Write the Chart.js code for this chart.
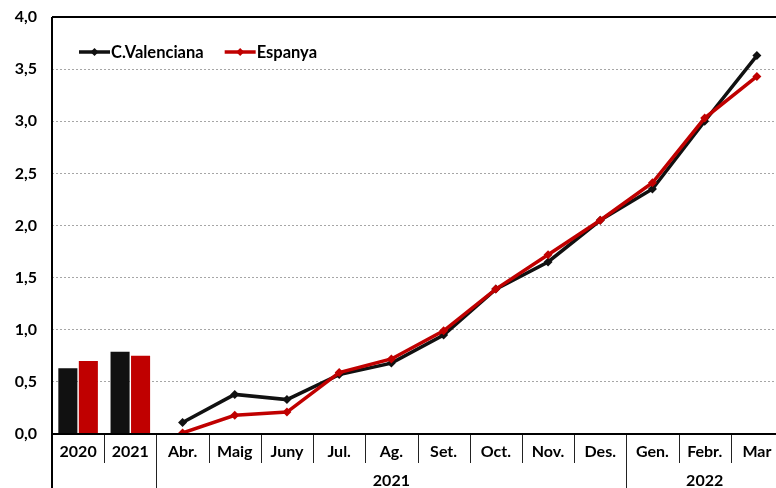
<!DOCTYPE html>
<html>
<head>
<meta charset="utf-8">
<script src="https://cdn.jsdelivr.net/npm/chart.js@4/dist/chart.umd.min.js"></script>
<style>
html,body{margin:0;padding:0;background:#fff;overflow:hidden;width:776px;height:488px;}
#wrap{width:790px;height:488px;}
</style>
</head>
<body>
<div id="wrap"><canvas id="c" width="790" height="488"></canvas></div>
<script>
const categories = ['2020','2021','Abr.','Maig','Juny','Jul.','Ag.','Set.','Oct.','Nov.','Des.','Gen.','Febr.','Mar'];
const groupLabels = ['', '2021', '2022'];
const groupStarts = [0, 2, 11];
const seriesNames = ['C.Valenciana', 'Espanya'];
const barValencia = [0.63, 0.79, null, null, null, null, null, null, null, null, null, null, null, null];
const barEspanya  = [0.70, 0.75, null, null, null, null, null, null, null, null, null, null, null, null];
const lineValencia = [null, null, 0.11, 0.38, 0.33, 0.57, 0.68, 0.95, 1.39, 1.65, 2.05, 2.35, 3.00, 3.63];
const lineEspanya  = [null, null, 0.01, 0.18, 0.21, 0.59, 0.72, 0.99, 1.39, 1.72, 2.05, 2.41, 3.03, 3.43];
const yTicks = [0, 0.5, 1, 1.5, 2, 2.5, 3, 3.5, 4];

const BLACK = '#111111';
const RED = '#c00000';
const FONT = 'Lato';

const framePlugin = {
  id: 'frame',
  afterDraw(chart) {
    const ctx = chart.ctx;
    const a = chart.chartArea;
    const x = chart.scales.x;
    const n = categories.length;
    const w = (x.right - x.left) / n;
    const H = chart.height;
    ctx.save();
    ctx.strokeStyle = '#222';
    ctx.lineWidth = 1;
    for (let i = 0; i <= n; i++) {
      const px = Math.round(x.left + i * w) + 0.5;
      const long = groupStarts.includes(i) || i === n;
      ctx.beginPath();
      ctx.moveTo(px, a.bottom);
      ctx.lineTo(px, long ? H : a.bottom + 29);
      ctx.stroke();
    }
    ctx.fillStyle = '#000';
    ctx.font = 'bold 16px ' + FONT;
    ctx.textAlign = 'center';
    ctx.textBaseline = 'middle';
    for (let g = 0; g < groupLabels.length; g++) {
      const s = groupStarts[g];
      const e = g + 1 < groupStarts.length ? groupStarts[g + 1] : n;
      const cx = x.left + (s + e) / 2 * w;
      ctx.fillText(groupLabels[g], cx, a.bottom + 47);
    }
    ctx.strokeStyle = '#000';
    ctx.lineWidth = 2;
    ctx.beginPath();
    ctx.moveTo(a.left, a.top); ctx.lineTo(a.right, a.top);
    ctx.stroke();
    ctx.beginPath();
    ctx.moveTo(a.left, a.top); ctx.lineTo(a.left, H);
    ctx.stroke();
    ctx.beginPath();
    ctx.moveTo(a.left, a.bottom); ctx.lineTo(a.right, a.bottom);
    ctx.stroke();
    ctx.font = 'bold 16.5px ' + FONT;
    ctx.textAlign = 'left';
    let lx = a.left + 27;
    const ly = a.top + 35;
    const lineSets = chart.data.datasets.filter(d => d.type === 'line');
    lineSets.forEach(ds => {
      ctx.strokeStyle = ds.borderColor;
      ctx.lineWidth = 3.5;
      ctx.beginPath();
      ctx.moveTo(lx, ly); ctx.lineTo(lx + 31, ly);
      ctx.stroke();
      ctx.fillStyle = ds.borderColor;
      ctx.beginPath();
      const cx = lx + 15.5, r = 4;
      ctx.moveTo(cx, ly - r); ctx.lineTo(cx + r, ly); ctx.lineTo(cx, ly + r); ctx.lineTo(cx - r, ly);
      ctx.closePath(); ctx.fill();
      ctx.fillStyle = '#000';
      ctx.fillText(ds.label, lx + 32, ly + 1);
      lx += 32 + ctx.measureText(ds.label).width + 21;
    });
    ctx.restore();
  }
};

new Chart(document.getElementById('c'), {
  data: {
    labels: categories,
    datasets: [
      { type: 'bar', label: seriesNames[0], data: barValencia, backgroundColor: BLACK, categoryPercentage: 0.785, barPercentage: 0.93, order: 3 },
      { type: 'bar', label: seriesNames[1], data: barEspanya, backgroundColor: RED, categoryPercentage: 0.785, barPercentage: 0.93, order: 3 },
      { type: 'line', label: seriesNames[0], data: lineValencia, borderColor: BLACK, backgroundColor: BLACK, borderWidth: 3.5, pointStyle: 'rectRot', pointRadius: 4.5, pointBorderWidth: 0, tension: 0, order: 2 },
      { type: 'line', label: seriesNames[1], data: lineEspanya, borderColor: RED, backgroundColor: RED, borderWidth: 3.5, pointStyle: 'rectRot', pointRadius: 4.5, pointBorderWidth: 0, tension: 0, order: 1 }
    ]
  },
  options: {
    responsive: false,
    animation: false,
    devicePixelRatio: 1,
    layout: { padding: { top: 17, right: 7, left: 0, bottom: 0 } },
    plugins: { legend: { display: false }, tooltip: { enabled: false } },
    scales: {
      x: {
        type: 'category',
        offset: true,
        afterFit: s => { s.height = 54; s.paddingLeft = 0; s.paddingRight = 0; },
        grid: { display: false, drawTicks: false },
        border: { display: false },
        ticks: { color: '#000', font: { family: FONT, size: 16, weight: 'bold' }, padding: 8, maxRotation: 0, autoSkip: false }
      },
      y: {
        min: 0, max: 4,
        afterFit: s => { s.width = 52; s.paddingTop = 0; s.paddingBottom = 0; },
        afterBuildTicks: s => { s.ticks = yTicks.map(v => ({ value: v })); },
        grid: {
          drawTicks: false,
          color: c => (c.tick && (c.tick.value === 0 || c.tick.value === 4)) ? 'rgba(0,0,0,0)' : '#a6a6a6',
          lineWidth: 1
        },
        border: { display: false, dash: [2, 2] },
        ticks: {
          color: '#000', padding: 15,
          font: { family: FONT, size: 16, weight: 'bold' },
          callback: v => Number(v).toFixed(1).replace('.', ',')
        }
      }
    }
  },
  plugins: [framePlugin]
});
</script>
</body>
</html>
